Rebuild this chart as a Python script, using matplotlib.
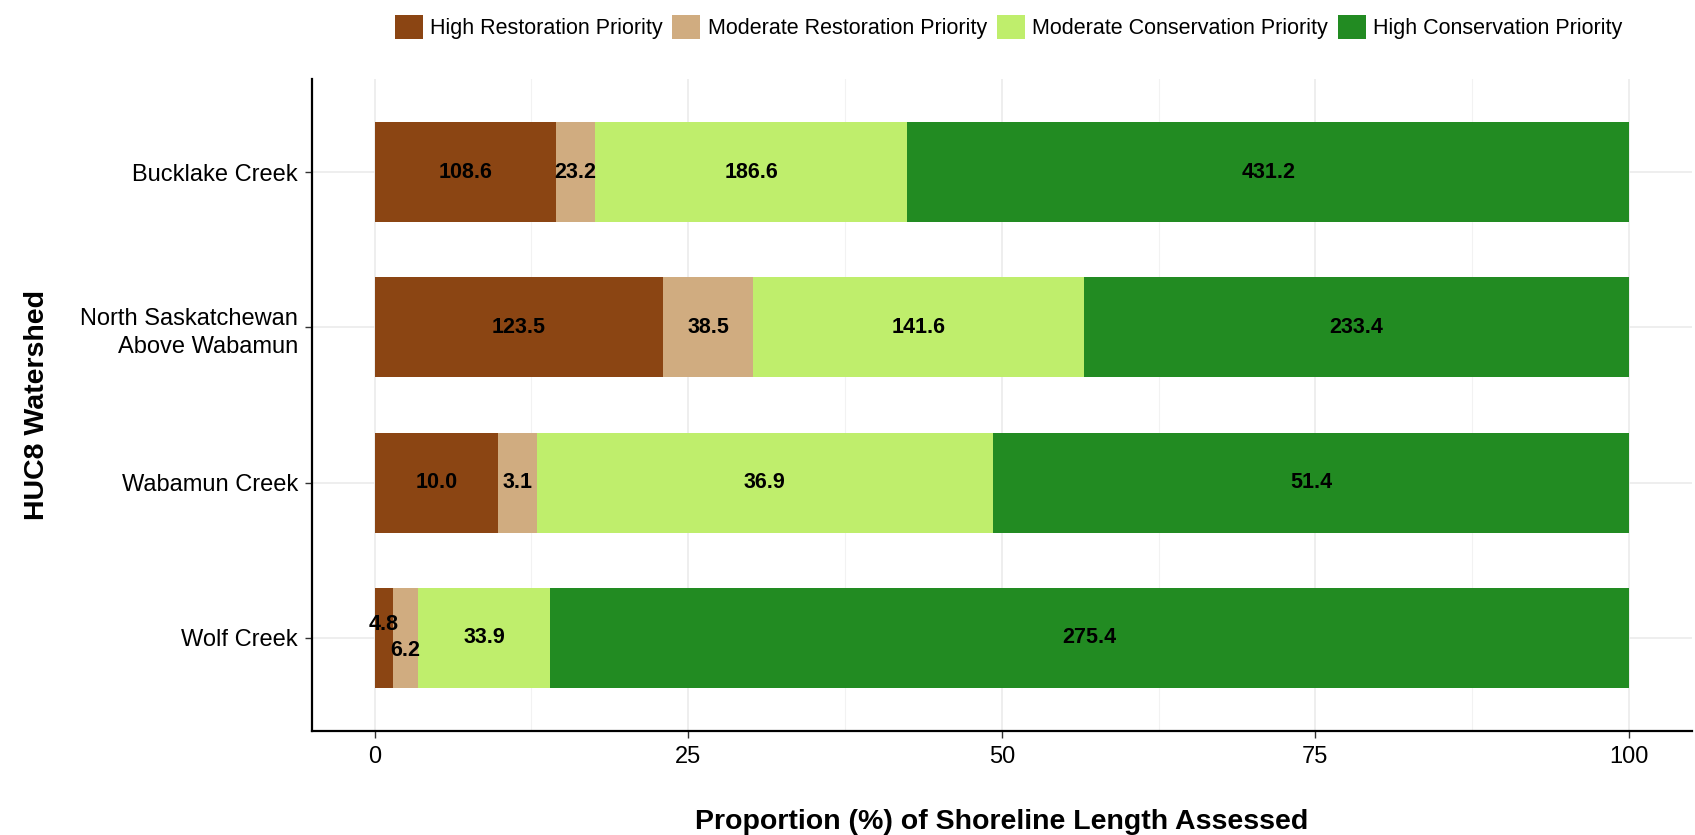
import numpy as np
import matplotlib
matplotlib.use("Agg")
import matplotlib.pyplot as plt
from matplotlib.patches import Patch

plt.rcParams['font.family'] = ['Liberation Sans', 'DejaVu Sans']

# data: shoreline length (km) per priority class, per watershed (top to bottom)
watersheds = ["Bucklake Creek", "North Saskatchewan\nAbove Wabamun", "Wabamun Creek", "Wolf Creek"]
classes = ["High Restoration Priority", "Moderate Restoration Priority",
           "Moderate Conservation Priority", "High Conservation Priority"]
high_rest = [108.6, 123.5, 10.0, 4.8]
mod_rest = [23.2, 38.5, 3.1, 6.2]
mod_cons = [186.6, 141.6, 36.9, 33.9]
high_cons = [431.2, 233.4, 51.4, 275.4]

colors = ["#8B4513", "#D0AC80", "#BFEE6C", "#228B22"]

lengths = np.array([high_rest, mod_rest, mod_cons, high_cons])  # classes x watersheds
props = lengths / lengths.sum(axis=0) * 100

# watersheds top to bottom -> y from high to low
ypos = np.arange(len(watersheds))[::-1] + 1

fig = plt.figure(figsize=(16.95, 8.35), dpi=100)
ax = fig.add_axes([0.184, 0.1246, 0.814, 0.7808])

# grid
for x in [0, 25, 50, 75, 100]:
    ax.axvline(x, color="#EBEBEB", lw=1.2, zorder=0)
for x in [12.5, 37.5, 62.5, 87.5]:
    ax.axvline(x, color="#F2F2F2", lw=0.8, zorder=0)
for y in ypos:
    ax.axhline(y, color="#EBEBEB", lw=1.2, zorder=0)

# small labels on Wolf Creek are nudged up/down so they don't collide
nudge = {(3, 0): 0.085, (3, 1): -0.08}

left = np.zeros(len(watersheds))
for k in range(len(classes)):
    ax.barh(ypos, props[k], left=left, height=0.645, color=colors[k], zorder=2)
    for i in range(len(watersheds)):
        cx = left[i] + props[k][i] / 2
        cy = ypos[i] + nudge.get((i, k), 0)
        ax.text(cx, cy, f"{lengths[k][i]:.1f}", ha="center", va="center",
                fontsize=15.5, fontweight="bold", color="black", zorder=3)
    left += props[k]

ax.set_xlim(-5, 105)
ax.set_ylim(0.4, 4.6)
ax.set_xticks([0, 25, 50, 75, 100])
ax.set_xticklabels(["0", "25", "50", "75", "100"])
ax.set_yticks(ypos)
ax.set_yticklabels(watersheds, linespacing=1.35)
ax.tick_params(axis="both", labelsize=17, length=5, width=1, color="#333333", labelcolor="black")
ax.tick_params(axis="x", pad=6)
ax.tick_params(axis="y", pad=5)

for s in ["top", "right"]:
    ax.spines[s].set_visible(False)
for s in ["left", "bottom"]:
    ax.spines[s].set_linewidth(1.6)
    ax.spines[s].set_color("black")

ax.set_xlabel("Proportion (%) of Shoreline Length Assessed", fontsize=20.5, fontweight="bold", labelpad=29)
ax.set_ylabel("HUC8 Watershed", fontsize=20.5, fontweight="bold", labelpad=22)

handles = [Patch(facecolor=c, edgecolor="none") for c in colors]
fig.legend(handles, classes, loc="upper center", bbox_to_anchor=(0.595, 1.005), ncol=4,
           frameon=False, fontsize=15.5, handlelength=1.3, handleheight=1.3,
           handletextpad=0.35, columnspacing=0.45)

fig.savefig("out.png", dpi=100)
